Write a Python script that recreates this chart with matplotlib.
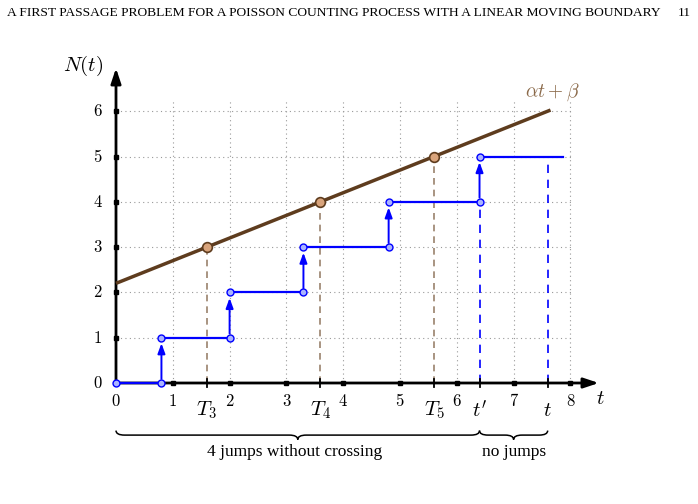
"""
Poisson counting process vs. linear moving boundary (first passage sketch)
"""

import matplotlib
matplotlib.use('Agg')
import matplotlib.pyplot as plt
from matplotlib.path import Path
from matplotlib.patches import PathPatch

plt.rcParams['mathtext.fontset'] = 'cm'

# data
jump_times = [0.8, 2.0, 3.3, 4.8, 6.4]
alpha, beta = 0.5, 2.2
cross_levels = [3, 4, 5]
cross_names = ['$T_3$', '$T_4$', '$T_5$']
t_prime = 6.4
t_final = 7.6
step_end = 7.87
line_end = 7.65
x_ticks = [0, 1, 2, 3, 4, 5, 6, 7, 8]
y_ticks = [0, 1, 2, 3, 4, 5, 6]

BLUE = '#0000ff'
BROWN = '#5e3c1e'
BROWN_DASH = '#9a826c'

fig = plt.figure(figsize=(6.98, 5.04), dpi=100)
ax = fig.add_axes([0, 0, 1, 1])
# pixel -> data: x=0 at px 116 (56.8 px/unit), y=0 at px 383 (45.3 px/unit)
ax.set_xlim(-116 / 56.8, (698 - 116) / 56.8)
ax.set_ylim(-(504 - 383) / 45.3, 383 / 45.3)
ax.axis('off')

# header line
fig.text(0.010, 0.974, 'A FIRST PASSAGE PROBLEM FOR A POISSON COUNTING PROCESS WITH A LINEAR MOVING BOUNDARY',
         fontsize=9.7, family='Liberation Serif', va='center', ha='left')
fig.text(0.989, 0.974, '11', fontsize=9.7, family='Liberation Serif', va='center', ha='right')

# dotted grid
for x in x_ticks[1:]:
    ax.plot([x, x], [0, 6.27], ls=(0, (1, 3)), color='#999999', lw=0.8, zorder=1)
for y in y_ticks[1:]:
    ax.plot([0, 8.05], [y, y], ls=(0, (1, 3)), color='#999999', lw=0.8, zorder=1)

# axes with arrows
ax.annotate('', xy=(8.5, 0), xytext=(-0.02, 0),
            arrowprops=dict(arrowstyle='-|>,head_length=0.9,head_width=0.3', color='black', lw=2.0,
                            shrinkA=0, shrinkB=0), zorder=3)
ax.annotate('', xy=(0, 6.95), xytext=(0, -0.02),
            arrowprops=dict(arrowstyle='-|>,head_length=0.9,head_width=0.3', color='black', lw=2.0,
                            shrinkA=0, shrinkB=0), zorder=3)
ax.text(-0.57, 7.0, '$N(t)$', fontsize=15, ha='center', va='center')
ax.text(8.52, -0.33, '$t$', fontsize=15, ha='center', va='center')

# integer tick squares and labels
ax.plot(x_ticks[1:], [0] * len(x_ticks[1:]), 's', color='black', ms=3.5, zorder=4)
ax.plot([0] * len(y_ticks[1:]), y_ticks[1:], 's', color='black', ms=3.5, zorder=4)
for x in x_ticks:
    ax.text(x, -0.4, '$%d$' % x, fontsize=12, ha='center', va='center')
for y in y_ticks:
    ax.text(-0.32, y, '$%d$' % y, fontsize=12, ha='center', va='center')

# boundary line alpha*t + beta
ax.plot([0, line_end], [beta, alpha * line_end + beta], color=BROWN, lw=2.5, zorder=5,
        solid_capstyle='butt')
ax.text(7.68, 6.42, r'$\alpha t+\beta$', fontsize=14, color='#8b6a4a', ha='center', va='center')

# crossing points
cross_times = [(k - beta) / alpha for k in cross_levels]
for tc, k, name in zip(cross_times, cross_levels, cross_names):
    ax.plot([tc, tc], [0, k], ls=(0, (4, 3)), color=BROWN_DASH, lw=1.2, zorder=2)
    ax.plot([tc, tc], [-0.08, 0.08], color='black', lw=1.3, zorder=4)
    ax.plot(tc, k, 'o', ms=7, mfc='#d9a47c', mec=BROWN, mew=1.2, zorder=7)
    ax.text(tc, -0.6, name, fontsize=15, ha='center', va='center')

# blue dashed at t' and t
ax.plot([t_prime, t_prime], [0, 4], ls=(0, (5, 4)), color=BLUE, lw=1.2, zorder=2)
ax.plot([t_final, t_final], [0, 5], ls=(0, (5, 4)), color=BLUE, lw=1.2, zorder=2)
for tx, lab in [(t_prime, "$t'$"), (t_final, '$t$')]:
    ax.plot([tx, tx], [-0.08, 0.08], color='black', lw=1.3, zorder=4)
    ax.text(tx, -0.6, lab, fontsize=15, ha='center', va='center')

# counting process steps
starts = [0] + jump_times
ends = jump_times + [step_end]
for n, (a, b) in enumerate(zip(starts, ends)):
    ax.plot([a, b], [n, n], color=BLUE, lw=1.6, zorder=5)
for n, tj in enumerate(jump_times):
    ax.annotate('', xy=(tj, n + 1), xytext=(tj, n),
                arrowprops=dict(arrowstyle='-|>,head_length=0.6,head_width=0.22', color=BLUE, lw=1.4,
                                shrinkA=3, shrinkB=4), zorder=5)
pts_x, pts_y = [0], [0]
for n, tj in enumerate(jump_times):
    pts_x += [tj, tj]
    pts_y += [n, n + 1]
ax.plot(pts_x, pts_y, 'o', ms=5, mfc='#aab4ff', mec=BLUE, mew=1.0, ls='none', zorder=6)


def brace(x0, x1, y0, h=0.2, r=0.15):
    mid = (x0 + x1) / 2
    yh = y0 - h / 2
    verts = [(x0, y0), (x0, yh), (x0 + r, yh),
             (mid - r, yh), (mid, yh), (mid, y0 - h),
             (mid, yh), (mid + r, yh),
             (x1 - r, yh), (x1, yh), (x1, y0)]
    codes = [Path.MOVETO, Path.CURVE3, Path.CURVE3,
             Path.LINETO, Path.CURVE3, Path.CURVE3,
             Path.CURVE3, Path.CURVE3,
             Path.LINETO, Path.CURVE3, Path.CURVE3]
    ax.add_patch(PathPatch(Path(verts, codes), fill=False, lw=1.1, color='black'))


brace(0, t_prime, -1.05)
brace(t_prime, t_final, -1.05)
ax.text(t_prime / 2 - 0.05, -1.52, '4 jumps without crossing', fontsize=12.5, family='Liberation Serif',
        ha='center', va='center')
ax.text((t_prime + t_final) / 2, -1.52, 'no jumps', fontsize=12.5, family='Liberation Serif',
        ha='center', va='center')

fig.savefig('out.png', dpi=100)
